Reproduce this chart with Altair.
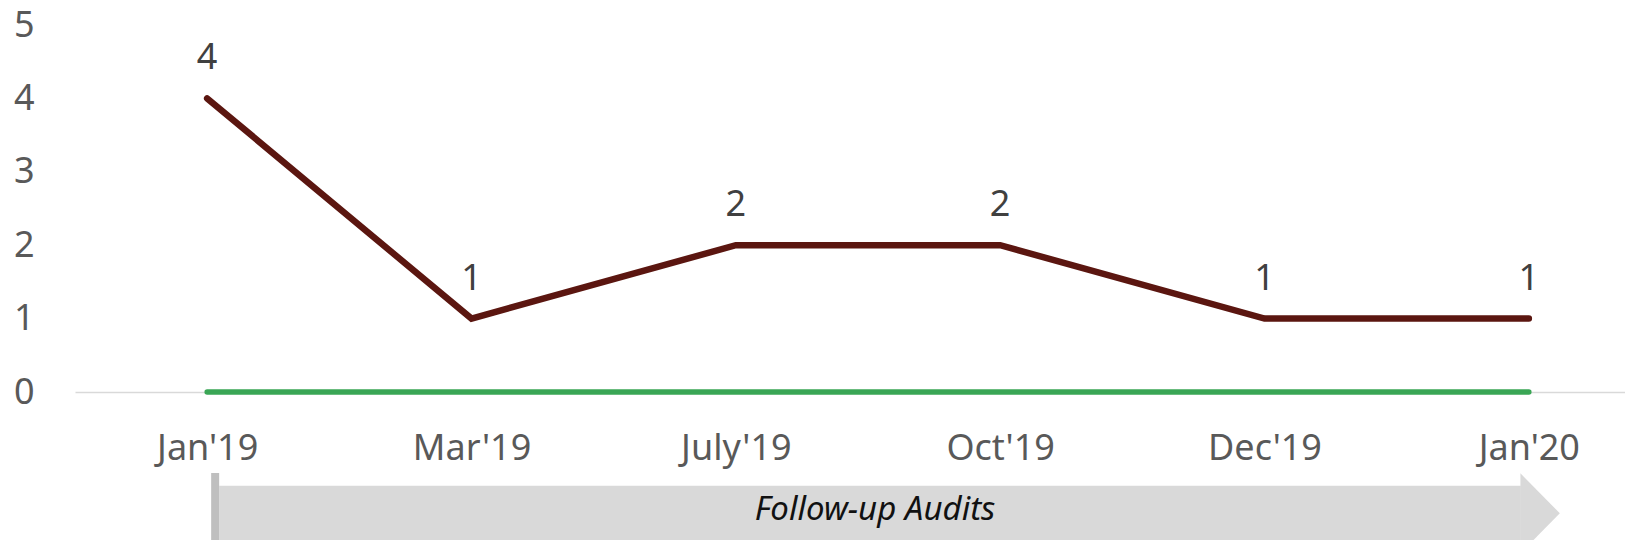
import altair as alt
import pandas as pd

months = ["Jan'19", "Mar'19", "July'19", "Oct'19", "Dec'19", "Jan'20"]
audit_findings = [4, 1, 2, 2, 1, 1]
baseline_series = [0, 0, 0, 0, 0, 0]
y_ticks = [0, 1, 2, 3, 4, 5]
arrow_label = "Follow-up Audits"

FONT = "Noto Sans"

df = pd.DataFrame({"month": months, "value": audit_findings})
df0 = pd.DataFrame({"month": months, "value": baseline_series})

xscale = alt.Scale(type="point", domain=months, range=[0, 1586], padding=0.5)
yscale = alt.Scale(domain=[0, 5])

xenc = alt.X("month:N", scale=xscale, sort=months,
             axis=alt.Axis(title=None, labelAngle=0, labelAlign="center", ticks=False,
                           domainColor="#D9D9D9", domainWidth=1.5,
                           labelFontSize=36, labelColor="#595959",
                           labelFont=FONT, labelPadding=56, zindex=0))
yenc = alt.Y("value:Q", scale=yscale,
             axis=alt.Axis(title=None, values=y_ticks, grid=False, domain=False,
                           ticks=False, labelFontSize=36, labelColor="#595959",
                           labelFont=FONT, labelPadding=41, labelAlign="right",
                           labelBaseline="middle", format="d"))

green = alt.Chart(df0).mark_line(color="#3AA655", strokeWidth=5.5, strokeCap="round").encode(
    x=xenc, y=yenc)
line = alt.Chart(df).mark_line(color="#5B1610", strokeWidth=6.5, strokeCap="round",
                               strokeJoin="miter").encode(x=xenc, y=yenc)
labels = alt.Chart(df).mark_text(dy=-40, fontSize=36, color="#404040", font=FONT).encode(
    x=alt.X("month:N", scale=xscale, sort=months),
    y=alt.Y("value:Q", scale=yscale), text="value:Q")

bar = alt.Chart(df.head(1)).mark_rect(color="#BFBFBF", xOffset=4, x2Offset=12).encode(
    x=alt.X(datum=months[0], scale=xscale, type="nominal"),
    x2=alt.X2(datum=months[0]),
    y=alt.value(448), y2=alt.value(530))
body = alt.Chart(df.head(1)).mark_rect(color="#D9D9D9", xOffset=12, x2Offset=-8).encode(
    x=alt.X(datum=months[0], scale=xscale, type="nominal"),
    x2=alt.X2(datum=months[-1]),
    y=alt.value(460.7), y2=alt.value(516.7))
head = alt.Chart(df.head(1)).mark_point(
    shape="M-0.21,-1L0.775,0L-0.21,1Z", size=6400, filled=True,
    color="#D9D9D9", opacity=1, strokeWidth=0).encode(
    x=alt.X(datum=months[-1], scale=xscale, type="nominal"),
    y=alt.value(488.3))
text = alt.Chart(df.head(1)).mark_text(
    text=arrow_label, fontSize=33, fontStyle="italic", font=FONT,
    color="#111111", align="center", baseline="middle").encode(
    x=alt.value(800), y=alt.value(485))

chart = alt.layer(body, head, bar, text, green, line, labels).properties(
    width=1550, height=367,
    padding={"left": 67, "top": 17, "right": 0, "bottom": 148},
    autosize=alt.AutoSizeParams(type="none"),
).configure_view(stroke=None)

chart.save("out.html", embed_options={"renderer": "svg", "actions": False})
